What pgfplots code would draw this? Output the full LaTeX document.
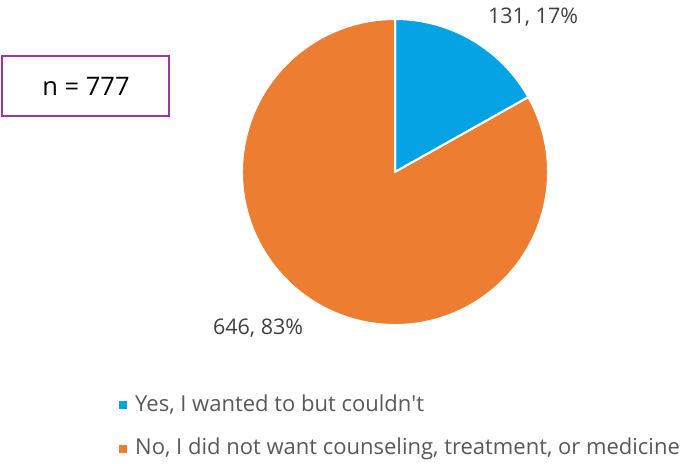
\documentclass[border=0pt]{standalone}
\usepackage{pgfplots}
\usepackage{pgfplotstable}
\usepackage{fontspec}
\setmainfont{Open Sans}
\pgfplotsset{compat=1.18}

\definecolor{sliceblue}{HTML}{05A3E3}
\definecolor{sliceorange}{HTML}{ED7D31}
\definecolor{labelgray}{HTML}{404040}
\definecolor{legendgray}{HTML}{595959}
\definecolor{boxpurple}{HTML}{A0359C}

\pgfplotstableread{
answer value
Yes 131
No 646
}\piedata

\begin{document}
\begin{tikzpicture}
  \path (0pt,0pt) rectangle (687pt,463pt);
  \pgfplotstablegetelem{0}{value}\of\piedata \let\valA\pgfplotsretval
  \pgfplotstablegetelem{1}{value}\of\piedata \let\valB\pgfplotsretval
  \pgfmathsetmacro\total{\valA+\valB}
  \pgfmathsetmacro\angA{90-360*(\valA/\total)}
  \begin{axis}[
    at={(395pt,291pt)}, anchor=center,
    scale only axis, width=306pt, height=306pt,
    xmin=-1, xmax=1, ymin=-1, ymax=1,
    hide axis, clip=false
  ]
    % slices, angles taken from the table values
    \fill[sliceblue, draw=white, line width=2pt, line join=round]
      (axis cs:0,0) -- (axis cs:0,1) arc[start angle=90, end angle=\angA, radius=153pt] -- cycle;
    \fill[sliceorange, draw=white, line width=2pt, line join=round]
      (axis cs:0,0) -- ({axis cs:{cos(\angA)},{sin(\angA)}}) arc[start angle=\angA, end angle=-270, radius=153pt] -- cycle;
    \node[text=labelgray, font=\fontsize{21.5}{24}\selectfont] at (axis cs:0.902,1.013) {131, 17\%};
    \node[text=labelgray, font=\fontsize{21.5}{24}\selectfont] at (axis cs:-0.895,-1.02) {646, 83\%};
  \end{axis}
  \draw[boxpurple, line width=2pt] (2pt,347pt) rectangle (169pt,407pt);
  \node[font=\fontsize{25.5}{30}\selectfont] at (86pt,377pt) {n = 777};
  \fill[sliceblue] (119pt,54pt) rectangle (127pt,62pt);
  \node[anchor=west, text=legendgray, font=\fontsize{22}{26}\selectfont, inner sep=0pt] at (135pt,58pt) {Yes, I wanted to but couldn\textquotesingle t};
  \fill[sliceorange] (119pt,10pt) rectangle (127pt,18pt);
  \node[anchor=west, text=legendgray, font=\fontsize{22}{26}\selectfont, inner sep=0pt] at (135pt,14pt) {No, I did not want counseling, treatment, or medicine};
\end{tikzpicture}
\end{document}
